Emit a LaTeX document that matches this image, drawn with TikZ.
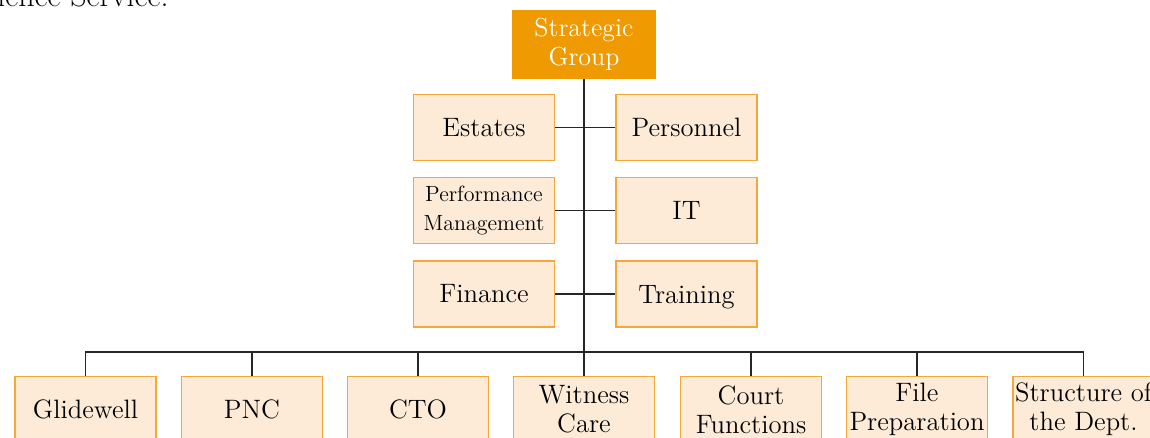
\documentclass[tikz,border=0pt]{standalone}
\usepackage{tikz}
\usetikzlibrary{positioning}

\definecolor{sgorange}{RGB}{238,154,0}
\definecolor{unitfill}{RGB}{253,235,215}
\definecolor{unitline}{RGB}{244,168,58}

\begin{document}
\begin{tikzpicture}[x=5pt,y=5pt,
  unit/.style={draw=unitline,fill=unitfill,line width=0.75pt,minimum width=70.5pt,minimum height=33pt,inner sep=1pt,align=center,font=\fontsize{13.3}{14.5}\selectfont},
  head/.style={fill=sgorange,text=white,minimum width=72pt,minimum height=34.5pt,inner sep=1pt,align=center,font=\fontsize{13}{14.5}\selectfont},
  link/.style={line width=0.6pt,draw=black!85}]
\useasboundingbox (0,0) rectangle (115,43.8);
\clip (0,0) rectangle (115,43.8);

\node[anchor=base west,inner sep=0pt,font=\fontsize{16}{19}\selectfont] (txt) at (-0.3,43.1) {ience Service.};

\node[head] (sg) at (58.4,39.35) {Strategic\\Group};

\node[unit] (est) at (48.4,31.05) {Estates};
\node[unit] (pers) at (68.65,31.05) {Personnel};
\node[unit,font=\fontsize{11}{14.5}\selectfont] (perf) at (48.4,22.75) {Performance\\Management};
\node[unit] (it) at (68.65,22.75) {IT};
\node[unit] (fin) at (48.4,14.4) {Finance};
\node[unit,text depth=0pt] (train) at (68.65,14.4) {Training};

\node[unit] (glide) at (8.55,2.85) {Glidewell};
\node[unit] (pnc) at (25.2,2.85) {PNC};
\node[unit] (cto) at (41.8,2.85) {CTO};
\node[unit] (wit) at (58.4,2.85) {Witness\\Care};
\node[unit] (court) at (75.1,2.85) {Court\\Functions};
\node[unit] (file) at (91.7,2.85) {File\\Preparation};
\node[unit] (dept) at (108.35,2.85) {Structure of\\the Dept.};

\coordinate (bus) at (58.4,8.6);

\draw[link] (sg.south) -- (wit.north);
\draw[link] (est) -- (pers);
\draw[link] (perf) -- (it);
\draw[link] (fin) -- (train);
\draw[link] (glide.north) -- (glide.north |- bus) -- (dept.north |- bus) -- (dept.north);
\draw[link] (pnc.north) -- (pnc.north |- bus);
\draw[link] (cto.north) -- (cto.north |- bus);
\draw[link] (court.north) -- (court.north |- bus);
\draw[link] (file.north) -- (file.north |- bus);
\end{tikzpicture}
\end{document}
